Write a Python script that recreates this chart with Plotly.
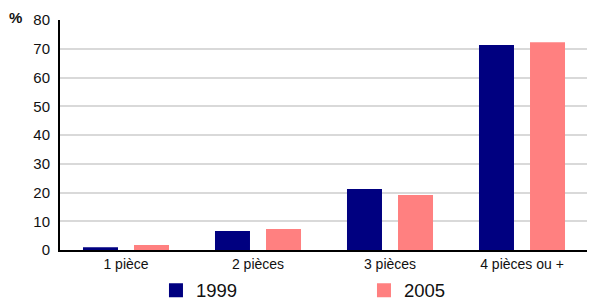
import plotly.graph_objects as go

categories = ["1 pièce", "2 pièces", "3 pièces", "4 pièces ou +"]
values_1999 = [1.0, 6.6, 21.2, 71.3]
values_2005 = [1.7, 7.3, 19.1, 72.3]
series_names = ["1999", "2005"]
colors = ["#000080", "#FF8080"]

fig = go.Figure()
for name, vals, col in zip(series_names, [values_1999, values_2005], colors):
    fig.add_trace(go.Bar(x=categories, y=vals, name=name, marker_color=col,
                         marker_line_width=0, showlegend=False))
    fig.add_trace(go.Scatter(x=[None], y=[None], mode="markers", name=name,
                             marker=dict(symbol="square", size=14, color=col),
                             showlegend=True))

fig.update_layout(
    width=595, height=302,
    margin=dict(l=52, r=15, t=12, b=60, autoexpand=False),
    paper_bgcolor="white", plot_bgcolor="white",
    barmode="group", bargap=0.227, bargroupgap=0.314,
    font=dict(family="Liberation Sans, Arial, sans-serif", size=14, color="#111"),
    xaxis=dict(showline=True, linecolor="#000", linewidth=2, ticks="",
               tickfont=dict(size=14), showgrid=False),
    yaxis=dict(range=[0, 80], dtick=10, showline=True, linecolor="#000", linewidth=2,
               gridcolor="#d9d9d9", gridwidth=2, zeroline=False, ticks="",
               tickfont=dict(size=15), ticklabelstandoff=5),
    legend=dict(orientation="h", x=0.2487, xanchor="left", xref="container",
                y=0.064, yanchor="middle", yref="container", bgcolor="rgba(0,0,0,0)",
                font=dict(size=18.5), entrywidth=163, entrywidthmode="pixels",
                itemsizing="trace"),
    annotations=[dict(text="<b>%</b>", xref="paper", yref="paper", x=-0.085, y=1.01,
                      xanchor="center", yanchor="middle", showarrow=False,
                      font=dict(size=15))],
)
fig.write_html("out.html")
